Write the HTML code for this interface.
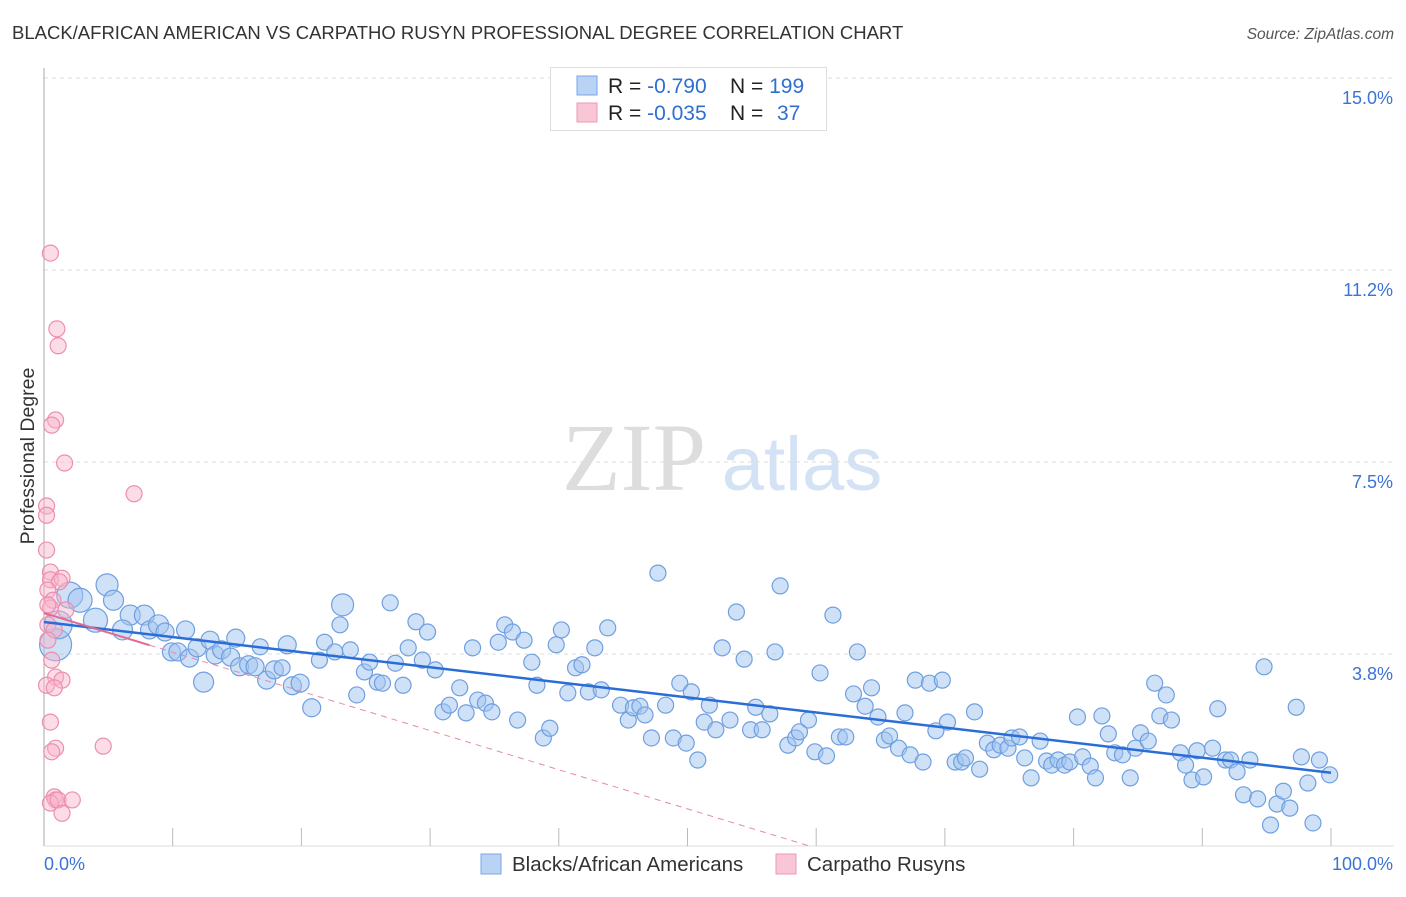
<!DOCTYPE html>
<html><head><meta charset="utf-8"><style>
body{margin:0;background:#fff;font-family:"Liberation Sans",sans-serif}
</style></head><body>
<svg id="c" width="1406" height="892" xmlns="http://www.w3.org/2000/svg" style="font-family:'Liberation Sans',sans-serif">
<text x="12" y="39" font-size="18.5" fill="#333">BLACK/AFRICAN AMERICAN VS CARPATHO RUSYN PROFESSIONAL DEGREE CORRELATION CHART</text>
<text x="1394" y="39" font-size="15.5" fill="#555" font-style="italic" text-anchor="end">Source: ZipAtlas.com</text>
<g>
<text x="634" y="490" font-size="96" fill="#ddd" font-family="Liberation Serif,serif" text-anchor="middle">ZIP</text>
<text x="802" y="490" font-size="76" fill="#d4e2f5" text-anchor="middle">atlas</text>
</g>
<g id="grid"></g>
<g id="axes"></g>
<g id="pts"></g>
<g id="trend"></g>
<text transform="translate(34,456) rotate(-90)" font-size="19.5" fill="#333" text-anchor="middle">Professional Degree</text>
<g>
<rect x="550.5" y="67.5" width="276" height="63" fill="#fff" stroke="#ddd"/>
<rect x="577" y="76" width="20" height="19" fill="#b9d3f5" stroke="#7aa6e6"/>
<rect x="577" y="103" width="20" height="19" fill="#f9c6d6" stroke="#eb98b4"/>
<text x="608" y="93" font-size="21" fill="#222">R = <tspan fill="#2f6fd0">-0.790</tspan><tspan x="730">N = </tspan><tspan fill="#2f6fd0">199</tspan></text>
<text x="608" y="120" font-size="21" fill="#222">R = <tspan fill="#2f6fd0">-0.035</tspan><tspan x="730">N = </tspan><tspan fill="#2f6fd0" x="777">37</tspan></text>
</g>
<g>
<rect x="481" y="854" width="20" height="20" fill="#b9d3f5" stroke="#7aa6e6"/>
<text x="512" y="871" font-size="20.5" fill="#333">Blacks/African Americans</text>
<rect x="776" y="854" width="20" height="20" fill="#f9c6d6" stroke="#eb98b4"/>
<text x="807" y="871" font-size="20.5" fill="#333">Carpatho Rusyns</text>
</g>
</svg>
<script>
const yTicks=[3.75,7.5,11.25,15];
const yTickLabels=["3.8%","7.5%","11.2%","15.0%"];
const xTickLabels=["0.0%","100.0%"];
const blueX=[0.9,1.1,2.0,2.8,4.0,4.9,5.4,6.7,6.1,7.8,8.2,8.9,9.4,9.9,10.4,11.0,11.3,12.4,11.9,12.9,13.3,13.8,14.5,14.9,15.2,15.9,16.4,16.8,17.3,17.9,18.5,18.9,19.3,19.9,20.8,21.4,21.8,22.6,23.0,23.2,23.8,24.3,24.9,25.3,25.9,26.3,26.9,27.3,27.9,28.3,28.9,29.4,29.8,30.4,31.0,31.5,32.3,32.8,33.7,34.3,34.8,33.3,35.3,35.8,36.4,36.8,37.3,37.9,38.3,38.8,39.3,39.8,40.2,40.7,41.3,41.8,42.3,42.8,43.3,43.8,44.8,45.4,45.8,46.3,46.7,47.2,47.7,48.3,48.9,49.4,49.9,50.3,50.8,51.3,51.7,52.2,52.7,53.3,53.8,54.4,54.9,55.3,55.8,56.4,56.8,57.2,57.8,58.4,58.7,59.4,59.9,60.3,60.8,61.3,61.8,62.3,62.9,63.2,63.8,64.3,64.8,65.3,65.7,66.4,66.9,67.3,67.7,68.3,68.8,69.3,69.8,70.2,70.8,71.3,71.6,72.3,72.7,73.3,73.8,74.3,74.9,75.2,75.8,76.2,76.7,77.4,77.9,78.3,78.8,79.3,79.7,80.3,80.7,81.3,81.7,82.2,82.7,83.2,83.8,84.4,84.8,85.2,85.8,86.3,86.7,87.2,87.6,88.3,88.7,89.2,89.6,90.1,90.8,91.2,91.8,92.2,92.7,93.2,93.7,94.3,94.8,95.3,95.8,96.3,96.8,97.3,97.7,98.2,98.6,99.1,99.9];
const blueY=[3.93,4.32,4.90,4.80,4.41,5.10,4.80,4.51,4.22,4.51,4.22,4.32,4.18,3.79,3.79,4.22,3.67,3.20,3.87,4.02,3.73,3.83,3.69,4.06,3.50,3.54,3.50,3.89,3.24,3.44,3.48,3.93,3.13,3.18,2.70,3.63,3.98,3.79,4.32,4.71,3.83,2.95,3.40,3.59,3.20,3.18,4.75,3.57,3.14,3.87,4.38,3.63,4.18,3.44,2.62,2.75,3.09,2.60,2.85,2.79,2.62,3.87,3.98,4.32,4.18,2.46,4.02,3.59,3.14,2.11,2.30,3.93,4.22,2.99,3.48,3.54,3.01,3.87,3.05,4.26,2.75,2.46,2.70,2.73,2.56,2.11,5.33,2.75,2.11,3.18,2.01,3.01,1.68,2.42,2.75,2.27,3.87,2.46,4.57,3.65,2.27,2.71,2.27,2.58,3.79,5.08,1.97,2.11,2.23,2.46,1.84,3.38,1.76,4.51,2.13,2.13,2.97,3.79,2.73,3.09,2.52,2.07,2.15,1.91,2.60,1.78,3.24,1.64,3.18,2.25,3.24,2.42,1.64,1.64,1.72,2.62,1.50,2.01,1.88,1.97,1.91,2.11,2.13,1.72,1.33,2.05,1.66,1.58,1.68,1.58,1.64,2.52,1.74,1.56,1.33,2.54,2.19,1.82,1.78,1.33,1.91,2.21,2.05,3.18,2.54,2.95,2.46,1.82,1.58,1.29,1.86,1.35,1.91,2.68,1.68,1.68,1.45,1.00,1.68,0.92,3.50,0.41,0.82,1.07,0.74,2.71,1.74,1.23,0.45,1.68,1.39];
const blueSize=[16,14,13,12,12,11,10,10,10,10,9,10,9,9,9,9,9,10,9,9,9,9,9,9,9,9,9,8,9,9,8,9,9,9,9,8,8,8,8,11];
const pinkX=[0.5,1.0,1.1,0.9,0.6,1.6,7.0,0.2,0.2,0.2,0.5,0.5,1.4,1.2,0.3,0.7,0.5,1.7,0.3,0.8,0.3,0.6,0.9,1.4,0.2,0.8,0.5,0.9,0.6,4.6,0.8,0.9,0.5,1.1,2.2,1.4,0.3];
const pinkY=[11.58,10.10,9.77,8.32,8.22,7.48,6.88,6.64,6.46,5.78,5.35,5.20,5.23,5.16,5.00,4.80,4.65,4.61,4.32,4.22,4.02,3.63,3.30,3.24,3.14,3.09,2.42,1.91,1.84,1.95,0.96,0.90,0.84,0.90,0.90,0.64,4.71];
const blueTrend=[4.375,1.43];
const pinkTrend=[4.55,-0.0765];

const NS="http://www.w3.org/2000/svg";
const X0=44,X1=1331,Y0=846,YPER=192/3.75;
const xs=v=>X0+(X1-X0)*v/100;
const ys=v=>Y0-v*YPER;
function mk(tag,attrs,parent){const e=document.createElementNS(NS,tag);for(const k in attrs)e.setAttribute(k,attrs[k]);document.getElementById(parent).appendChild(e);return e;}

yTicks.forEach((t,i)=>{
 const l=mk('line',{x1:44,x2:1394,y1:ys(t),y2:ys(t),stroke:'#ddd','stroke-dasharray':'4,4'},'grid');
 
 
 const tx=mk('text',{x:1393,y:ys(t)+26,'font-size':18,fill:'#3b73d6','text-anchor':'end'},'grid');
 tx.textContent=yTickLabels[i];
 
 
});
let a=mk('line',{x1:44,x2:44,y1:68,y2:846,stroke:'#aaa'},'axes');


a=mk('line',{x1:44,x2:1394,y1:846,y2:846,stroke:'#ddd'},'axes');


for(let i=1;i<=10;i++){
 const t=mk('line',{x1:xs(i*10),x2:xs(i*10),y1:828,y2:846,stroke:'#bbb'},'axes');
 
 
}
[[0,'start',44],[100,'end',1393]].forEach((d,i)=>{
 const t=mk('text',{x:d[2],y:870,'font-size':18,fill:'#3b73d6','text-anchor':d[1]},'axes');
 t.textContent=xTickLabels[i];
 
 
});
blueX.forEach((x,i)=>{
 const c=mk('circle',{cx:xs(x),cy:ys(blueY[i]),r:blueSize[i]||8,fill:'rgba(160,196,240,0.5)',stroke:'#6f9fe0','stroke-width':1.2},'pts');
 
 
});
pinkX.forEach((x,i)=>{
 const c=mk('circle',{cx:xs(x),cy:ys(pinkY[i]),r:8,fill:'rgba(248,180,202,0.45)',stroke:'#ec8fae','stroke-width':1.2},'pts');
 
 
});
let t=mk('line',{x1:xs(0),y1:ys(blueTrend[0]),x2:xs(100),y2:ys(blueTrend[1]),stroke:'#2a6dd6','stroke-width':2.5},'trend');


const pz=-pinkTrend[0]/pinkTrend[1];
t=mk('line',{x1:xs(0),y1:ys(pinkTrend[0]),x2:xs(8.2),y2:ys(pinkTrend[0]+pinkTrend[1]*8.2),stroke:'#e06b92','stroke-width':2},'trend');


t=mk('line',{x1:xs(8.2),y1:ys(pinkTrend[0]+pinkTrend[1]*8.2),x2:xs(pz),y2:ys(0),stroke:'#e888a8','stroke-width':1,'stroke-dasharray':'6,5'},'trend');


</script>
</body></html>
